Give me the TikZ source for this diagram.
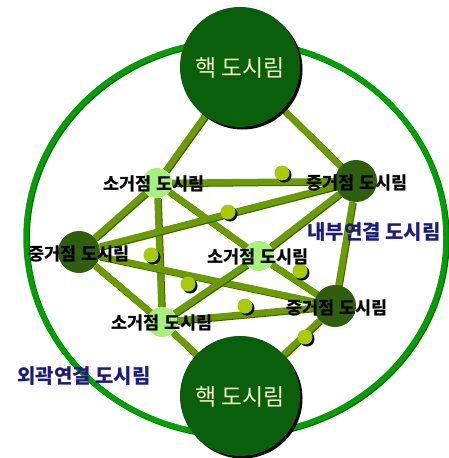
\documentclass[tikz,border=0pt]{standalone}
\usepackage{fontspec}
\newfontfamily\kr{Noto Sans CJK KR}
\usetikzlibrary{shadows}
\pgfdeclarelayer{ringlayer}
\pgfdeclarelayer{edgelayer}
\pgfsetlayers{ringlayer,edgelayer,main}
\definecolor{ringgreen}{HTML}{00A000}
\definecolor{ringshade}{HTML}{005A00}
\definecolor{coregreen}{HTML}{0A600A}
\definecolor{medgreen}{HTML}{2F5E0C}
\definecolor{smallgreen}{HTML}{A6F07E}
\definecolor{edgecol}{HTML}{6A9C00}
\definecolor{edgeshade}{HTML}{3C5C00}
\definecolor{dotcol}{HTML}{A8CC00}
\definecolor{coretext}{HTML}{F2F2C8}
\definecolor{navy}{HTML}{1C1C7A}
\begin{document}
\begin{tikzpicture}[x=1pt,y=-1pt,
  core/.style={circle, fill=coregreen, inner sep=0pt, minimum size=120pt,
    drop shadow={shadow xshift=2.5pt, shadow yshift=-2.5pt, opacity=1, fill=black}},
  mednode/.style={circle, fill=medgreen, inner sep=0pt, minimum size=42pt},
  smallnode/.style={circle, fill=smallgreen, inner sep=0pt, minimum size=30pt},
  ball/.style={circle, fill=dotcol, inner sep=0pt, minimum size=15pt,
    drop shadow={shadow xshift=2pt, shadow yshift=-2pt, opacity=1, fill=black}},
  conn/.style={line width=6.5pt, draw=edgecol,
    preaction={draw=edgeshade, line width=6.5pt, transform canvas={shift={(1pt,-1pt)}}}},
  nodetext/.style={font=\kr\bfseries\fontsize{17.5}{18}\selectfont, inner sep=0pt, text=black},
  coretxt/.style={font=\kr\fontsize{23}{24}\selectfont, inner sep=0pt, text=coretext},
  outertxt/.style={font=\kr\bfseries\fontsize{20}{21}\selectfont, inner sep=0pt, text=navy}]
\useasboundingbox (0,0) rectangle (448,458);

% ring
\begin{pgfonlayer}{ringlayer}
  \draw[ringshade, line width=5.5pt] (237,239) ellipse [x radius=210, y radius=197];
  \draw[ringgreen, line width=5.5pt] (236,238) ellipse [x radius=210, y radius=197];
\end{pgfonlayer}

% nodes
\node[core] (tc) at (240,67) {};
\node[core] (bc) at (240,396) {};
\node[smallnode] (tl) at (157,183) {};
\node[mednode] (tr) at (356,181) {};
\node[mednode] (lm) at (79,252) {};
\node[smallnode] (cs) at (259,256) {};
\node[mednode] (rl) at (335,306) {};
\node[smallnode] (ll) at (162,322) {};

% connectors
\begin{pgfonlayer}{edgelayer}
  \draw[conn] (tc) -- (tl);
  \draw[conn] (tc) -- (tr);
  \draw[conn] (tl) -- (tr);
  \draw[conn] (tl) -- (lm);
  \draw[conn] (tl) -- (ll);
  \draw[conn] (tl) -- (cs);
  \draw[conn] (lm) -- (tr);
  \draw[conn] (lm) -- (rl);
  \draw[conn] (lm) -- (ll);
  \draw[conn] (ll) -- (cs);
  \draw[conn] (ll) -- (rl);
  \draw[conn] (ll) -- (bc);
  \draw[conn] (rl) -- (bc);
  \draw[conn] (cs) -- (tr);
  \draw[conn] (cs) -- (rl);
  \draw[conn] (tr) -- (rl);
\end{pgfonlayer}

% balls on connectors
\node[ball] (d1) at (282,173) {};
\node[ball] (d2) at (228,212) {};
\node[ball] (d3) at (151,255) {};
\node[ball] (d4) at (188,284) {};
\node[ball] (d5) at (245,306) {};
\node[ball] (d6) at (300,271) {};
\node[ball] (d7) at (305,337) {};

% texts
\node[coretxt] (tct) at (240,68) {핵 도시림};
\node[coretxt] (bct) at (240,397) {핵 도시림};
\node[nodetext] (tlt) at (154,184) {소거점 도시림};
\node[nodetext] (trt) at (357,183) {중거점 도시림};
\node[nodetext] (lmt) at (79,254) {중거점 도시림};
\node[nodetext] (cst) at (258,257) {소거점 도시림};
\node[nodetext] (rlt) at (337,308) {중거점 도시림};
\node[nodetext] (llt) at (162,323) {소거점 도시림};
\node[outertxt] (inner) at (374,232) {내부연결 도시림};
\node[outertxt] (outer) at (84,376) {외곽연결 도시림};
\end{tikzpicture}
\end{document}
